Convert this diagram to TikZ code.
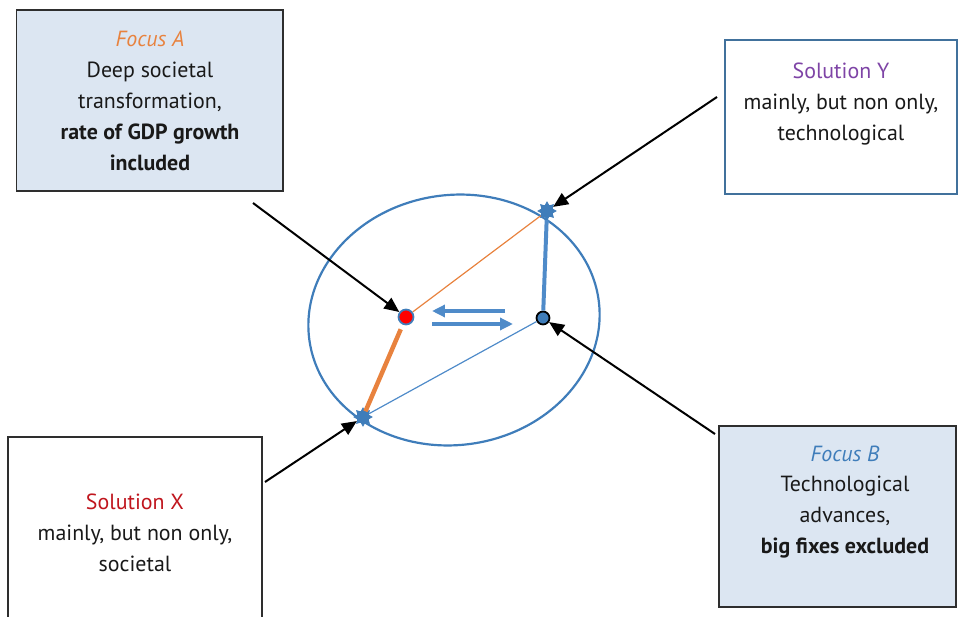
\documentclass[tikz,border=0pt]{standalone}
\usepackage{fontspec}
\setmainfont{PT Sans}
\usetikzlibrary{arrows.meta, shapes.geometric}
\definecolor{corange}{HTML}{E8823E}
\definecolor{cpurple}{HTML}{7E44A6}
\definecolor{cred}{HTML}{C0161E}
\definecolor{cblue}{HTML}{3F7DBA}
\definecolor{cline}{HTML}{4F8BC9}
\definecolor{cfill}{HTML}{DCE6F2}
\definecolor{cdark}{HTML}{2E2E2E}
\definecolor{cframe}{HTML}{41719C}
\tikzset{
  every picture/.style={line width=1.2pt},
  panel/.style={draw=#1, fill=white, line width=2pt, inner sep=0pt},
  panel/.default=cdark,
  txt/.style={align=center, font=\fontsize{22}{31}\selectfont, text=black!90},
  pointer/.style={-{Triangle[length=15pt, width=13pt]}, draw=black, line width=2pt},
  twin/.style={-{Triangle[length=13pt, width=12pt]}, draw=cline, line width=3.4pt},
  tip/.style={star, star points=8, star point ratio=1.6, fill=cblue, draw=cblue, line width=0.8pt, minimum size=18pt, inner sep=0pt},
}

\begin{document}
\begin{tikzpicture}[x=1bp, y=-1bp]
  \useasboundingbox (0,0) rectangle (959,617);

  % ellipse
  \draw[cblue, line width=2.2pt, rotate around={8:(454,320)}] (454,320) ellipse [x radius=146, y radius=125];

  % foci and end points
  \node[circle, draw=cblue, fill=red, inner sep=0pt, minimum size=15pt, line width=1.8pt] (adot) at (406,317) {};
  \node[circle, draw=black, fill=cblue, inner sep=0pt, minimum size=13pt, line width=1.8pt] (bdot) at (543,318) {};
  \node[tip] (starY) at (547,211) {};
  \node[tip] (starX) at (363,417) {};
  \draw[corange, line width=1.2pt] (adot) -- (starY);
  \draw[corange, line width=4.5pt, shorten <=5pt] (adot) -- (starX);
  \draw[cline, line width=4pt] (starY) -- (bdot);
  \draw[cline, line width=1.2pt] (bdot) -- (starX);

  % moving between the foci
  \coordinate (l1) at (505,311); \coordinate (l2) at (432,311);
  \coordinate (r1) at (432,324); \coordinate (r2) at (513,324);
  \draw[twin] (l1) -- (l2);
  \draw[twin] (r1) -- (r2);

  % boxes
  \node[panel, fill=cfill, minimum width=267, minimum height=181] (focA) at (149.5,100.5) {};
  \node[panel=cframe, minimum width=232, minimum height=154] (solY) at (841,117) {};
  \node[panel, minimum width=254, minimum height=188] (solX) at (135,531) {};
  \node[panel, fill=cfill, minimum width=237, minimum height=181] (focB) at (837.5,516.5) {};

  \node[txt] (focAtxt) at (150,101) {{\color{corange}\itshape Focus A}\\Deep societal\\transformation,\\\textbf{rate of GDP growth}\\\textbf{included}};
  \node[txt] (solYtxt) at (841,104) {{\color{cpurple}Solution Y}\\mainly, but non only,\\technological};
  \node[txt] (solXtxt) at (135,533) {{\color{cred}Solution X}\\mainly, but non only,\\societal};
  \node[txt] (focBtxt) at (845,502) {{\color{cblue}\itshape Focus B}\\Technological\\advances,\\\textbf{big fixes excluded}};

  % pointers
  \coordinate (fromA) at (253,203);
  \coordinate (fromY) at (717,97);
  \coordinate (fromX) at (265,482);
  \coordinate (fromB) at (715,434);
  \draw[pointer] (fromA) -- (adot);
  \draw[pointer] (fromY) -- (starY);
  \draw[pointer] (fromX) -- (starX);
  \draw[pointer] (fromB) -- (bdot);
\end{tikzpicture}
\end{document}
